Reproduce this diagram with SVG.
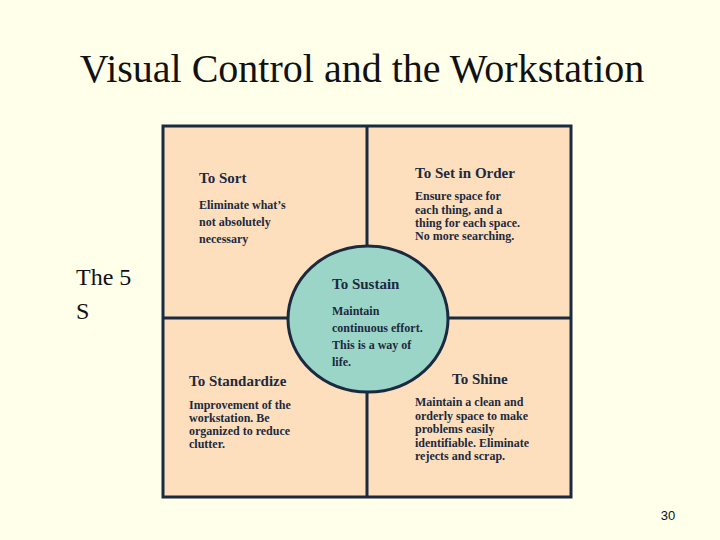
<svg xmlns="http://www.w3.org/2000/svg" width="720" height="540" viewBox="0 0 720 540">
<style>
.h{font-family:"Liberation Serif",serif;font-weight:bold;font-size:15px;fill:#1c2a40}
.b{font-family:"Liberation Serif",serif;font-weight:bold;font-size:12px;fill:#1c2a40}
.t{font-family:"Liberation Serif",serif;fill:#111}
</style>
<rect width="720" height="540" fill="#FFFFEA"/>
<text class="t" x="362" y="82" font-size="40" text-anchor="middle">Visual Control and the Workstation</text>
<g id="grid">
<rect x="163" y="126" width="408" height="371" fill="#FDDFBD" stroke="#1a2a40" stroke-width="3"/>
<line x1="367" y1="126" x2="367" y2="497" stroke="#1a2a40" stroke-width="3"/>
<line x1="163" y1="318" x2="571" y2="318" stroke="#1a2a40" stroke-width="3"/>
</g>
<g id="sort"><text class="h" x="199" y="183">To Sort</text>
<text class="b" x="199" y="209">Eliminate what’s</text><text class="b" x="199" y="226">not absolutely</text><text class="b" x="199" y="243">necessary</text></g>
<g id="setinorder"><text class="h" x="415" y="178">To Set in Order</text>
<text class="b" x="415" y="200">Ensure space for</text><text class="b" x="415" y="214">each thing, and a</text><text class="b" x="415" y="227">thing for each space.</text><text class="b" x="415" y="240">No more searching.</text></g>
<g id="fives"><text class="t" x="76" y="285" font-size="24">The 5</text><text class="t" x="76" y="319" font-size="24">S</text></g>
<g id="standardize"><text class="h" x="189" y="386">To Standardize</text>
<text class="b" x="189" y="409">Improvement of the</text><text class="b" x="189" y="422">workstation. Be</text><text class="b" x="189" y="435">organized to reduce</text><text class="b" x="189" y="448">clutter.</text></g>
<g id="shine"><text class="h" x="452" y="384">To Shine</text>
<text class="b" x="415" y="406">Maintain a clean and</text><text class="b" x="415" y="420">orderly space to make</text><text class="b" x="415" y="433">problems easily</text><text class="b" x="415" y="447">identifiable. Eliminate</text><text class="b" x="415" y="460">rejects and scrap.</text></g>
<g id="sustain"><ellipse cx="368" cy="319" rx="80" ry="73" fill="#9AD5C8" stroke="#1a2a40" stroke-width="3"/>
<text class="h" x="332" y="289">To Sustain</text>
<text class="b" x="332" y="315">Maintain</text><text class="b" x="332" y="332">continuous effort.</text><text class="b" x="332" y="349">This is a way of</text><text class="b" x="332" y="366">life.</text></g>
<text class="t" x="668" y="520" font-size="13" text-anchor="middle" style="font-family:'Liberation Sans',sans-serif">30</text>
</svg>
